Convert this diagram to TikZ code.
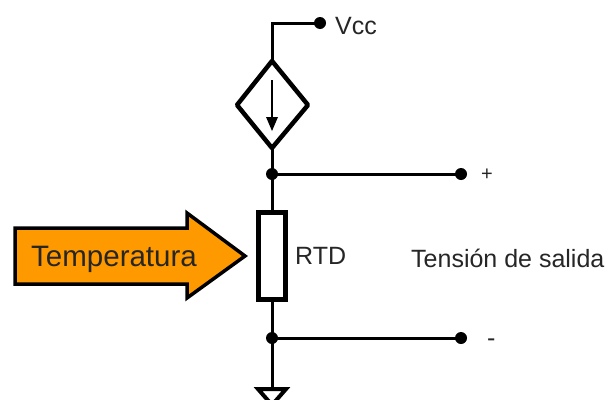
\documentclass[tikz,border=0pt]{standalone}
\usepackage{fontspec}
\setmainfont{Liberation Sans}
\definecolor{arroworange}{RGB}{255,153,0}
\tikzset{
  wire/.style={line width=3pt,black},
  thick box/.style={line width=4.5pt,black,fill=white,miter limit=4},
  terminal/.style={circle,fill=black,inner sep=0pt,minimum size=12pt},
  junction/.style={circle,fill=black,inner sep=0pt,minimum size=12pt},
  lbl/.style={inner sep=0pt,font=\fontsize{25}{28}\selectfont,text=black!85}
}
\begin{document}
\begin{tikzpicture}[x=1pt,y=-1pt]
\useasboundingbox (0,0) rectangle (615,399);
\fill[white] (0,0) rectangle (615,399);
\clip (0,0) rectangle (615,399);
% named points
\coordinate (corner) at (272,23);
\node[terminal] (vcc) at (320,23) {};
\node[junction] (jtop) at (272,174) {};
\node[terminal] (plus) at (461,174) {};
\node[junction] (jbot) at (272,338) {};
\node[terminal] (minus) at (461,338) {};
\coordinate (dtop) at (272,61);
\coordinate (dbot) at (272,148);
\coordinate (rtop) at (272,211);
\coordinate (rbot) at (272,301);
\coordinate (gtop) at (272,389);
% wires
\draw[wire] (vcc.center) -- (corner) -- (dtop);
\draw[wire] (dbot) -- (jtop.center) -- (rtop);
\draw[wire] (jtop.center) -- (plus.center);
\draw[wire] (rbot) -- (jbot.center) -- (gtop);
\draw[wire] (jbot.center) -- (minus.center);
% dependent source
\draw[thick box,line join=round] (dtop) -- (308,105) -- (dbot) -- (237,105) -- cycle;
\coordinate (ia) at (272,80);
\coordinate (ib) at (272,118);
\draw[line width=2.5pt] (ia) -- (ib);
\fill (266,117) -- (278,117) -- (272,131) -- cycle;
% resistor
\node[draw,line width=4.5pt,fill=white,minimum width=27pt,minimum height=87pt,inner sep=0pt] (rtd) at (272,256) {};
% ground
\draw[line width=4pt,fill=white,miter limit=10] (258,389) -- (286,389) -- (272,405) -- cycle;
% big arrow
\draw[line width=3.5pt,fill=arroworange,line join=miter,miter limit=10]
  (15,228) -- (187,228) -- (187,213) -- (245,256) -- (187,298) -- (187,284) -- (15,284) -- cycle;
% labels
\node[lbl,anchor=west,font=\fontsize{29.5}{32}\selectfont] (temp) at (31,259) {Temperatura};
\node[lbl,anchor=west] (vcclbl) at (335,26) {Vcc};
\node[lbl,anchor=west] (rtdlbl) at (295,256) {RTD};
\node[lbl,anchor=west] (salida) at (411,258) {Tensión de salida};
\node[lbl,anchor=west,font=\fontsize{20}{22}\selectfont] (pluslbl) at (481,175) {+};
\node[lbl,anchor=west] (minuslbl) at (487,343) {-};
\end{tikzpicture}
\end{document}
